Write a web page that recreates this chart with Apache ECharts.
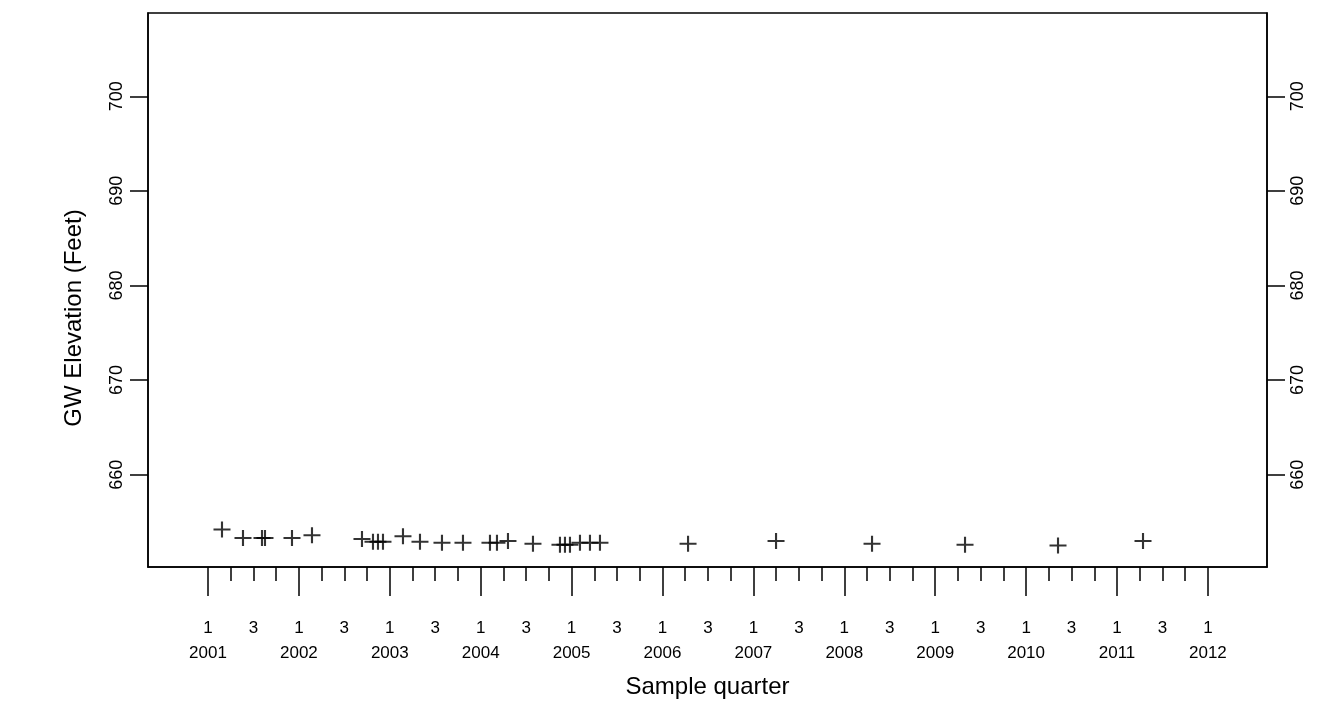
<!DOCTYPE html>
<html>
<head>
<meta charset="utf-8">
<script src="https://cdn.jsdelivr.net/npm/echarts@6/dist/echarts.min.js"></script>
<style>
html,body{margin:0;padding:0;background:#fff;}
#chart{width:1322px;height:711px;}
</style>
</head>
<body>
<div id="chart"></div>
<script>
// Sample dates as decimal years (quarter scale) and GW elevations (feet)
const sampleDates = [
  2001.154, 2001.385, 2001.594, 2001.627, 2001.924, 2002.144, 2002.694, 2002.815,
  2002.870, 2002.925, 2003.145, 2003.332, 2003.574, 2003.805, 2004.102, 2004.179,
  2004.300, 2004.575, 2004.872, 2004.927, 2004.982, 2005.092, 2005.202, 2005.312,
  2006.281, 2007.249, 2008.305, 2009.328, 2010.351, 2011.286
];
const gwElevation = [
  654.2, 653.3, 653.3, 653.3, 653.3, 653.6, 653.2, 652.9,
  652.9, 652.9, 653.5, 652.9, 652.8, 652.8, 652.8, 652.8,
  653.0, 652.7, 652.6, 652.6, 652.6, 652.8, 652.8, 652.8,
  652.7, 653.0, 652.7, 652.6, 652.5, 653.0
];
const yTicks = [660, 670, 680, 690, 700];
const years = [2001, 2002, 2003, 2004, 2005, 2006, 2007, 2008, 2009, 2010, 2011, 2012];
const quarterLabels = ['1', '3'];
const yTitle = 'GW Elevation (Feet)';
const xTitle = 'Sample quarter';

const xMin = 2000.34, xMax = 2012.65;
const yMin = 650.24, yMax = 708.8;

const lastYear = years[years.length - 1];
const quarterTicks = [];
const labelValues = [];
years.forEach(function (yr) {
  [0, 0.25, 0.5, 0.75].forEach(function (q) {
    if (yr + q <= lastYear) quarterTicks.push(yr + q);
  });
  labelValues.push(yr);
  if (yr + 0.5 <= lastYear) labelValues.push(yr + 0.5);
});

const FONT = '"Liberation Sans", Arial, Helvetica, sans-serif';
const data = sampleDates.map(function (d, i) { return [d, gwElevation[i]]; });

function xLabel(v) {
  const yr = Math.floor(v + 1e-6);
  const isQ1 = Math.abs(v - yr) < 1e-6;
  if (isQ1) return '{q|' + quarterLabels[0] + '}\n{y|' + yr + '}';
  return '{q|' + quarterLabels[1] + '}';
}

const chart = echarts.init(document.getElementById('chart'), null, {renderer: 'canvas'});
const baseLine = {show: true, onZero: false, lineStyle: {color: '#000', width: 1.5}};
chart.setOption({
  animation: false,
  backgroundColor: '#fff',
  textStyle: {fontFamily: FONT, color: '#000'},
  grid: {
    left: 148, right: 55, top: 13, bottom: 144,
    show: true, borderColor: '#000', borderWidth: 1.5, backgroundColor: 'transparent'
  },
  graphic: [{
    type: 'text',
    x: 74, y: 318,
    rotation: Math.PI / 2,
    style: {
      text: yTitle, fill: '#000',
      font: '24px "Liberation Sans", Arial, sans-serif',
      textAlign: 'center', textVerticalAlign: 'middle'
    }
  }],
  xAxis: [
    {
      type: 'value', min: xMin, max: xMax, position: 'bottom',
      name: xTitle, nameLocation: 'middle', nameGap: 108,
      nameTextStyle: {fontFamily: FONT, fontSize: 24, color: '#000'},
      axisLine: baseLine,
      splitLine: {show: false},
      axisTick: {show: true, length: 14, customValues: quarterTicks, lineStyle: {color: '#000', width: 1.5}},
      axisLabel: {
        show: true, customValues: labelValues, margin: 50,
        formatter: xLabel,
        rich: {
          q: {fontFamily: FONT, fontSize: 17, color: '#000', lineHeight: 22, align: 'center'},
          y: {fontFamily: FONT, fontSize: 17, color: '#000', lineHeight: 28, align: 'center'}
        }
      }
    },
    {
      type: 'value', min: xMin, max: xMax, position: 'bottom',
      axisLine: {show: false},
      splitLine: {show: false},
      axisTick: {show: true, length: 29, customValues: years, lineStyle: {color: '#000', width: 1.5}},
      axisLabel: {show: false}
    }
  ],
  yAxis: [
    {
      type: 'value', min: yMin, max: yMax, position: 'left',
      axisLine: baseLine,
      splitLine: {show: false},
      axisTick: {show: true, length: 18, customValues: yTicks, lineStyle: {color: '#000', width: 1.5}},
      axisLabel: {show: true, customValues: yTicks, rotate: 90, margin: 22,
        fontFamily: FONT, fontSize: 18, color: '#000'}
    },
    {
      type: 'value', min: yMin, max: yMax, position: 'right',
      axisLine: baseLine,
      splitLine: {show: false},
      axisTick: {show: true, length: 18, customValues: yTicks, lineStyle: {color: '#000', width: 1.5}},
      axisLabel: {show: true, customValues: yTicks, rotate: 90, margin: 22,
        fontFamily: FONT, fontSize: 18, color: '#000'}
    }
  ],
  series: [{
    type: 'scatter',
    xAxisIndex: 0, yAxisIndex: 0,
    data: data,
    symbol: 'path://M0,7L7,7L7,0L9,0L9,7L16,7L16,9L9,9L9,16L7,16L7,9L0,9Z',
    symbolSize: [17, 16],
    itemStyle: {color: '#000'},
    z: 5
  }]
});
</script>
</body>
</html>
